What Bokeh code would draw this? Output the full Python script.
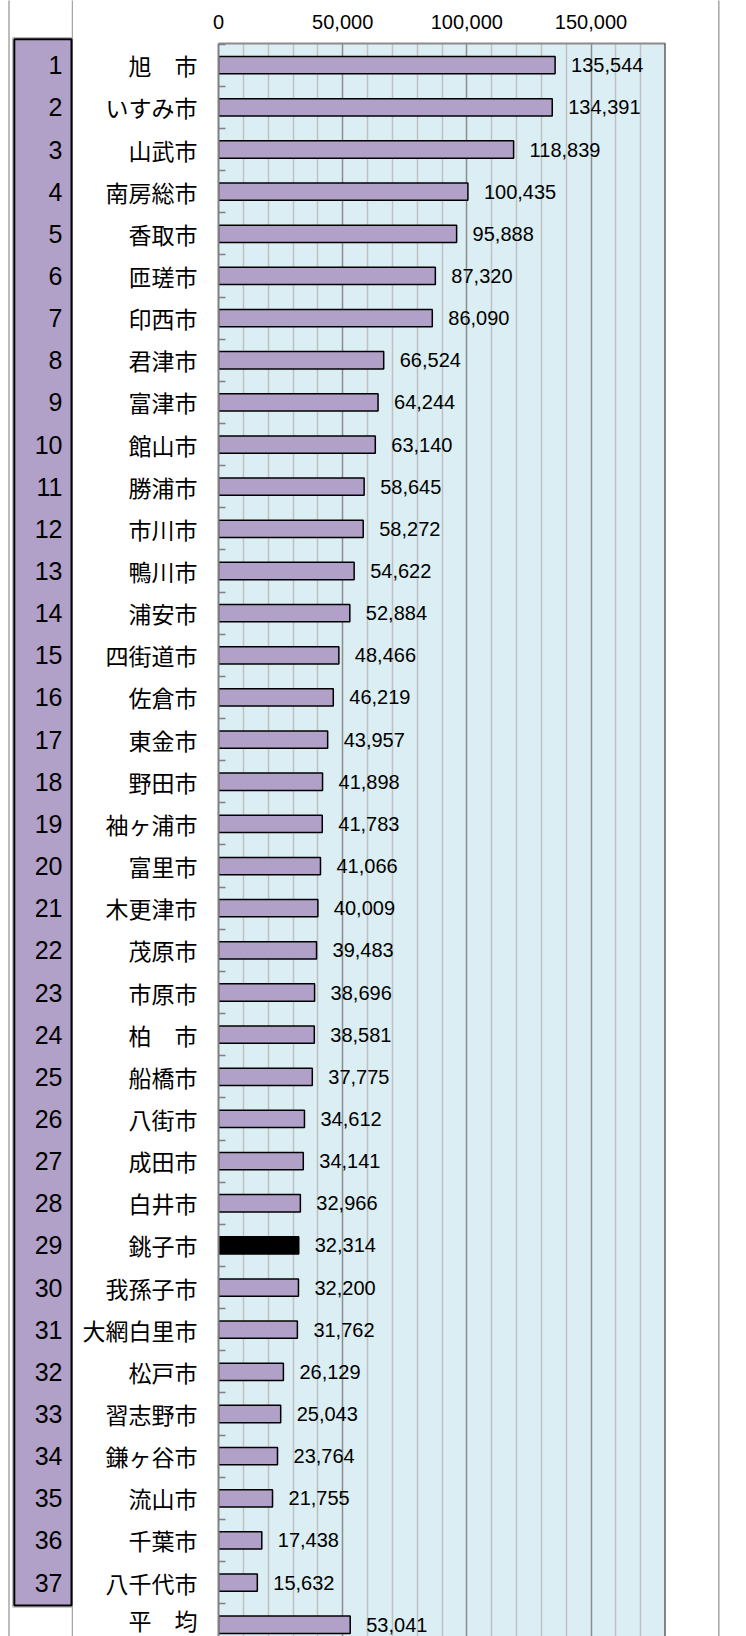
from bokeh.plotting import figure
from bokeh.models import Range1d, FixedTicker, NumeralTickFormatter, ColumnDataSource, Span
from bokeh.layouts import row
from bokeh.core.properties import value
from bokeh.embed import file_html
from bokeh.resources import INLINE

# ---------------- data ----------------
cities = ["旭　市", "いすみ市", "山武市", "南房総市", "香取市", "匝瑳市", "印西市", "君津市",
          "富津市", "館山市", "勝浦市", "市川市", "鴨川市", "浦安市", "四街道市", "佐倉市",
          "東金市", "野田市", "袖ヶ浦市", "富里市", "木更津市", "茂原市", "市原市", "柏　市",
          "船橋市", "八街市", "成田市", "白井市", "銚子市", "我孫子市", "大網白里市", "松戸市",
          "習志野市", "鎌ヶ谷市", "流山市", "千葉市", "八千代市", "平　均"]
values = [135544, 134391, 118839, 100435, 95888, 87320, 86090, 66524,
          64244, 63140, 58645, 58272, 54622, 52884, 48466, 46219,
          43957, 41898, 41783, 41066, 40009, 39483, 38696, 38581,
          37775, 34612, 34141, 32966, 32314, 32200, 31762, 26129,
          25043, 23764, 21755, 17438, 15632, 53041]
ranks = [str(i) for i in range(1, 38)]
highlight = "銚子市"
x_major_ticks = [0, 50000, 100000, 150000]
x_max = 180000

# ---------------- style / layout ----------------
NUMF = "'Liberation Sans', Arial, sans-serif"
JP = "'Noto Sans CJK JP', sans-serif"
PURPLE = "#B1A0C7"
BLUE = "#DAEEF3"
FRAME_GRAY = "#a6a6a6"
FIG_H = 1636
ROW_PX = 42.15          # pixel height of one category row
ROW0_Y = 64.7           # pixel y of first row centre
TOP = 43                # pixel y of plot-area top

def row_at(py):
    return (py - ROW0_Y) / ROW_PX

n = len(cities)
idx = list(range(n))
y_top = row_at(TOP)
y_bottom = row_at(FIG_H)

# ---------------- main chart ----------------
main = figure(width=632, height=FIG_H, output_backend="svg", toolbar_location=None,
              x_range=Range1d(0, x_max), y_range=Range1d(y_bottom, y_top),
              x_axis_location="above", y_axis_location="left",
              min_border_left=145, min_border_right=40, min_border_top=TOP, min_border_bottom=0)
main.background_fill_color = BLUE
main.border_fill_color = "white"
main.outline_line_color = None

minor_x = [v for v in range(10000, x_max, 10000) if v not in x_major_ticks]
main.xaxis.ticker = FixedTicker(ticks=x_major_ticks, minor_ticks=minor_x)
main.xaxis.formatter = NumeralTickFormatter(format="0,0")
main.xaxis.major_label_text_font = NUMF
main.xaxis.major_label_text_font_size = "20px"
main.xaxis.major_label_text_color = "black"
main.xaxis.major_label_standoff = 15
main.xaxis.major_tick_in = 0
main.xaxis.major_tick_out = 0
main.xaxis.minor_tick_in = 0
main.xaxis.minor_tick_out = 0
main.xaxis.axis_line_color = "#8c8c8c"
main.xaxis.axis_line_width = 2

main.xgrid.grid_line_color = "#8c8c8c"
main.xgrid.grid_line_width = 1.5
main.xgrid.minor_grid_line_color = "#c0c0c0"
main.xgrid.minor_grid_line_width = 1.5
main.ygrid.visible = False

main.yaxis.ticker = FixedTicker(ticks=idx, minor_ticks=[i + 0.5 for i in range(-1, n)])
main.yaxis.major_label_overrides = {i: c for i, c in enumerate(cities)}
main.yaxis.major_label_text_font = JP
main.yaxis.major_label_text_font_size = "23px"
main.yaxis.major_label_text_color = "black"
main.yaxis.major_label_standoff = 21
main.yaxis.major_tick_in = 0
main.yaxis.major_tick_out = 0
main.yaxis.minor_tick_in = 7
main.yaxis.minor_tick_out = 0
main.yaxis.minor_tick_line_color = "#808080"
main.yaxis.minor_tick_line_width = 1.5
main.yaxis.axis_line_color = "#808080"
main.yaxis.axis_line_width = 2

src = ColumnDataSource(dict(
    y=idx, v=values,
    color=["black" if c == highlight else PURPLE for c in cities],
    label=[f"{v:,}" for v in values],
))
main.hbar(y="y", left=0, right="v", height=0.41, fill_color="color",
          line_color="black", line_width=1.5, source=src)
main.text(x="v", y="y", text="label", x_offset=16, text_align="left", text_baseline="middle",
          text_font=value(NUMF), text_font_size="20px", text_color="black", source=src)
main.add_layout(Span(location=x_max, dimension="height", line_color="#1a1a1a", line_width=2))

# ---------------- rank column ----------------
RK_W = 73
rk = figure(width=RK_W, height=FIG_H, output_backend="svg", toolbar_location=None,
            x_range=Range1d(0, RK_W), y_range=Range1d(y_bottom, y_top),
            x_axis_type=None, y_axis_type=None, min_border=0, min_border_top=TOP)
rk.outline_line_color = None
rk.background_fill_color = "white"
rk.border_fill_color = "white"
r1 = rk.segment(x0=[8.5, 72], x1=[8.5, 72], y0=[row_at(0)] * 2, y1=[row_at(FIG_H)] * 2,
                line_color=FRAME_GRAY, line_width=1.5)
r0 = rk.quad(left=[12.2], right=[72], top=[row_at(37.2)], bottom=[row_at(1606.6)],
             fill_color=None, line_color=FRAME_GRAY, line_width=1)
r2 = rk.quad(left=[13.8], right=[71], top=[row_at(38.8)], bottom=[row_at(1605)],
             fill_color=PURPLE, line_color="black", line_width=2)
r3 = rk.text(x=[62] * len(ranks), y=list(range(len(ranks))), text=ranks,
             text_align="right", text_baseline="middle",
             text_font=value(NUMF), text_font_size="25px", text_color="black")
for r in (r1, r0, r2, r3):
    r.level = "overlay"

# ---------------- right frame line ----------------
RF_W = 41
rf = figure(width=RF_W, height=FIG_H, output_backend="svg", toolbar_location=None,
            x_range=Range1d(0, RF_W), y_range=Range1d(y_bottom, y_top),
            x_axis_type=None, y_axis_type=None, min_border=0, min_border_top=TOP)
rf.outline_line_color = None
rf.background_fill_color = "white"
rf.border_fill_color = "white"
r4 = rf.segment(x0=[13.3], x1=[13.3], y0=[row_at(0)], y1=[row_at(FIG_H)],
                line_color=FRAME_GRAY, line_width=1.5)
r4.level = "overlay"

layout = row(rk, main, rf)
open("out.html", "w").write(file_html(layout, INLINE))
